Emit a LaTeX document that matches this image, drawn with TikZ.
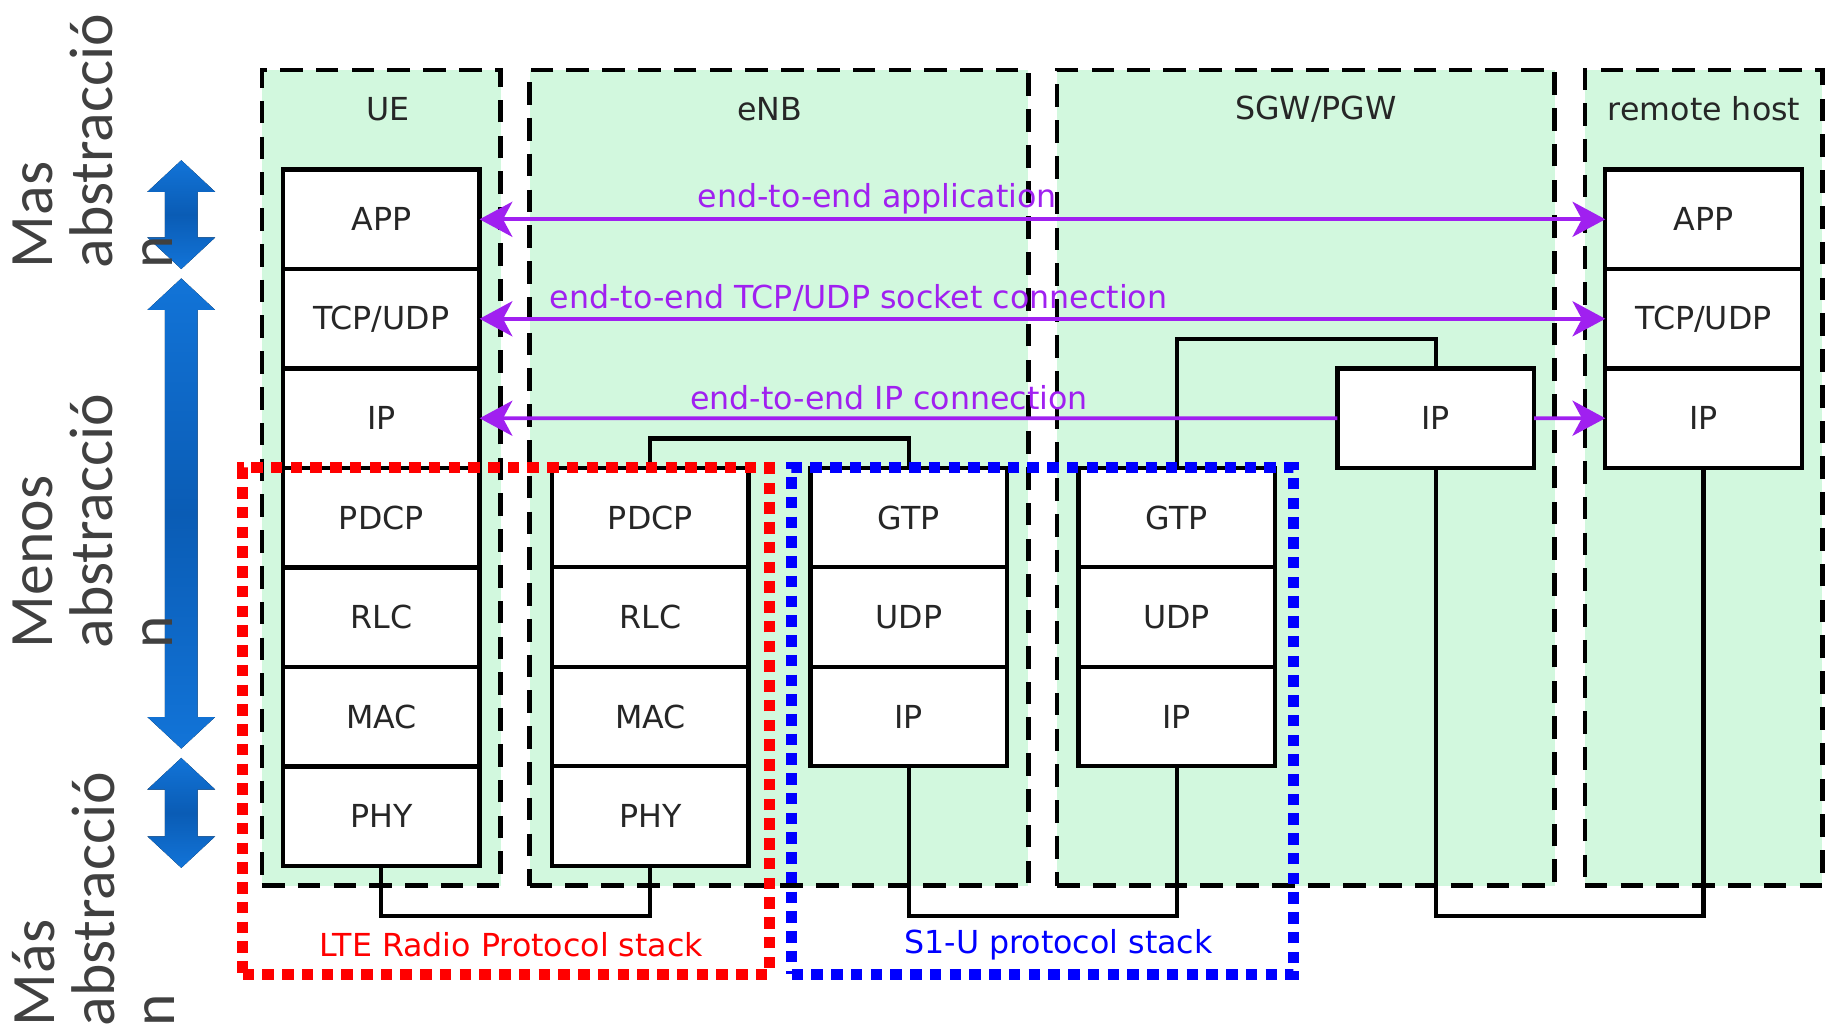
\documentclass[tikz,border=0pt]{standalone}
\usepackage{fontspec}
\setmainfont{DejaVu Sans}
\newfontfamily\sidefont{Carlito}
\usetikzlibrary{arrows.meta,positioning}
\definecolor{Mint}{HTML}{D2F8DE}
\definecolor{Link}{HTML}{A020F0}
\definecolor{ArrowTip}{HTML}{1274D8}
\definecolor{ArrowDeep}{HTML}{0A5CB5}
\definecolor{SideGray}{HTML}{404040}

\begin{document}
\begin{tikzpicture}[x=0.01cm,y=-0.01cm,node distance=0pt]
        \tikzset{
          hostbox/.style={
            draw,
            fill=Mint,
            line width=1.1pt,
            dash pattern=on 5.5pt off 3.2pt,
            inner sep=0pt,
            minimum height=6.97cm
          },
          hosttitle/.style={font=\fontsize{7.7}{9}\selectfont, text=black!85},
          layer/.style={
            draw,
            fill=white,
            line width=1.05pt,
            inner sep=0pt,
            outer sep=0pt,
            minimum width=1.68cm,
            minimum height=0.85cm,
            font=\fontsize{7.7}{9}\selectfont,
            text=black!85
          },
          link/.style={line width=1.05pt},
          e2e/.style={draw=Link, line width=0.9pt, >={Stealth[length=0.28cm,width=0.3cm,inset=0.08cm]}},
          e2elabel/.style={text=Link, font=\fontsize{7.7}{9}\selectfont, inner sep=1pt},
          stackframe/.style={line width=2.6pt, dash pattern=on 2.8pt off 2pt, inner sep=0pt, minimum height=4.33cm},
          framelabel/.style={font=\fontsize{7.7}{9}\selectfont, inner sep=1pt},
          blockarrow/.style={top color=ArrowTip, bottom color=ArrowTip, middle color=ArrowDeep},
          sidetext/.style={rotate=90, anchor=north west, align=left, inner sep=0pt, text=SideGray,
            font=\sidefont\fontsize{15}{14.6}\selectfont}
        }
        \useasboundingbox (0,0) rectangle (1568,875);

        % hosts
        \node[hostbox, minimum width=2.04cm] (uehost) at (326,408.5) {};
        \node[hostbox, minimum width=4.26cm] (enbhost) at (666,408.5) {};
        \node[hostbox, minimum width=4.25cm] (sgwhost) at (1116.5,408.5) {};
        \node[hostbox, minimum width=2.03cm] (rhhost) at (1456.5,408.5) {};
        \node[hosttitle] (uetitle) at (332,93) {UE};
        \node[hosttitle] (enbtitle) at (658,93) {eNB};
        \node[hosttitle] (sgwtitle) at (1125,93) {SGW/PGW};
        \node[hosttitle] (rhtitle) at (1457,93) {remote host};

        % UE stack
        \node[layer] (ueapp) at (326,187.5) {APP};
        \node[layer,below=of ueapp] (uetcp) {TCP/UDP};
        \node[layer,below=of uetcp] (ueip) {IP};
        \node[layer,below=of ueip] (uepdcp) {PDCP};
        \node[layer,below=of uepdcp] (uerlc) {RLC};
        \node[layer,below=of uerlc] (uemac) {MAC};
        \node[layer,below=of uemac] (uephy) {PHY};

        % eNB stacks
        \node[layer] (enbpdcp) at (556,442.5) {PDCP};
        \node[layer,below=of enbpdcp] (enbrlc) {RLC};
        \node[layer,below=of enbrlc] (enbmac) {MAC};
        \node[layer,below=of enbmac] (enbphy) {PHY};
        \node[layer] (enbgtp) at (777,442.5) {GTP};
        \node[layer,below=of enbgtp] (enbudp) {UDP};
        \node[layer,below=of enbudp] (enbs1ip) {IP};

        % SGW/PGW stacks
        \node[layer] (sgwgtp) at (1006,442.5) {GTP};
        \node[layer,below=of sgwgtp] (sgwudp) {UDP};
        \node[layer,below=of sgwudp] (sgws1ip) {IP};
        \node[layer] (sgwip) at (1227.5,357.5) {IP};

        % remote host stack
        \node[layer] (rhapp) at (1456.5,187.5) {APP};
        \node[layer,below=of rhapp] (rhtcp) {TCP/UDP};
        \node[layer,below=of rhtcp] (rhip) {IP};

        % links between stacks
        \draw[link] (uephy.south) -- ++(0,43) -| (enbphy.south);
        \draw[link] (enbpdcp.north) -- ++(0,-25) -| (enbgtp.north);
        \draw[link] (enbs1ip.south) -- ++(0,128) -| (sgws1ip.south);
        \draw[link] (sgwgtp.north) -- ++(0,-110) -| (sgwip.north);
        \draw[link] (sgwip.south) -- ++(0,383) -| (rhip.south);

        % end-to-end connections
        \draw[e2e,<->] (ueapp.east) -- (rhapp.west);
        \draw[e2e,<->] (uetcp.east) -- (rhtcp.west);
        \draw[e2e,<-] (ueip.east) -- (sgwip.west);
        \draw[e2e,->] (sgwip.east) -- (rhip.west);
        \node[e2elabel] (applabel) at (750,170) {end-to-end application};
        \node[e2elabel] (tcplabel) at (734,255) {end-to-end TCP/UDP socket connection};
        \node[e2elabel] (iplabel) at (760,340) {end-to-end IP connection};

        % protocol stack frames
        \node[stackframe, draw=red, minimum width=4.5cm] (radioframe) at (432.5,616.5) {};
        \node[stackframe, draw=blue, minimum width=4.29cm] (s1frame) at (891.5,616.5) {};
        \node[framelabel, text=red] (radiolabel) at (437,808) {LTE Radio Protocol stack};
        \node[framelabel, text=blue] (s1label) at (905,808) {S1-U protocol stack};

        % abstraction arrows
        \foreach \ya/\yb in {137/230, 238/640, 648/742}
          \fill[blockarrow] (155,\ya) -- (184,{\ya+27}) -- (169,{\ya+27}) -- (169,{\yb-27})
            -- (184,{\yb-27}) -- (155,\yb) -- (126,{\yb-27}) -- (141,{\yb-27})
            -- (141,{\ya+27}) -- (126,{\ya+27}) -- cycle;
        \node[sidetext] (masabs) at (10,230) {Mas\\abstracció\\n};
        \node[sidetext] (menosabs) at (10,555) {Menos\\abstracció\\n};
        \node[sidetext] (masabs2) at (10,878) {Más\\abstracció\\n};
      \end{tikzpicture}
\end{document}
